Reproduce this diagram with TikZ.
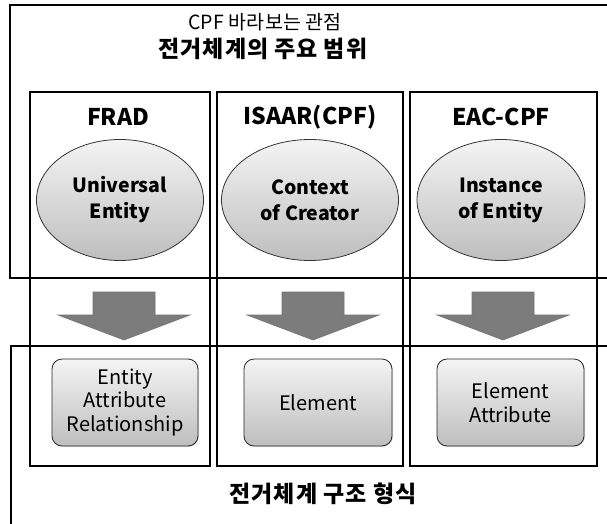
\documentclass[tikz,border=0pt]{standalone}
\usepackage{fontspec}
\setmainfont{Noto Sans CJK KR}
\usetikzlibrary{shapes.geometric,shadows}

\definecolor{arrowgray}{RGB}{124,124,124}
\definecolor{lightshade}{RGB}{244,244,244}
\definecolor{darkshade}{RGB}{190,190,190}

\tikzset{
  frame/.style={draw=black, line width=2pt},
  colbox/.style={draw=black, line width=2pt, fill=none},
  scopeoval/.style={ellipse, draw=black!80, line width=0.8pt,
        top color=lightshade, bottom color=darkshade, align=center,
        font=\fontsize{19.5}{26}\selectfont\bfseries, inner sep=0pt},
  formbox/.style={rectangle, rounded corners=10pt, draw=black!85, line width=0.8pt,
        top color=lightshade, bottom color=darkshade, align=center,
        font=\fontsize{20}{23.5}\selectfont, inner sep=0pt,
        drop shadow={shadow xshift=1pt, shadow yshift=-1pt, opacity=0.25}},
  headlabel/.style={font=\fontsize{23}{27}\selectfont\bfseries},
  downarrow/.style={fill=arrowgray, draw=black!55, line width=0.6pt}
}

\begin{document}
\begin{tikzpicture}[x=1pt,y=-1pt]
    \useasboundingbox (0,0) rectangle (607,524);
    \clip (0,0) rectangle (607,524);

    % outer frames (cut at the right and bottom)
    \draw[frame] (620,5) -- (10,5) -- (10,278) -- (620,278);
    \draw[frame] (620,346) -- (11,346) -- (11,540);

    \node (top1) at (265,22) {\fontsize{19.5}{23}\selectfont\addfontfeatures{LetterSpace=1} CPF 바라보는 관점};
    \node (top2) at (263,49) {\fontsize{23}{27}\selectfont\bfseries\addfontfeatures{LetterSpace=4} 전거체계의 주요 범위};
    \node (bottom) at (323,494) {\fontsize{23}{27}\selectfont\bfseries\addfontfeatures{LetterSpace=5} 전거체계 구조 형식};

    % three columns
    \draw[colbox] (30,92) rectangle (210,466);
    \draw[colbox] (217,92) rectangle (403,466);
    \draw[colbox] (410,92) rectangle (597,466);

    \node[headlabel] (hA) at (118,117) {FRAD};
    \node[headlabel] (hB) at (310,117) {ISAAR(CPF)};
    \node[headlabel] (hC) at (501,117) {EAC-CPF};

    \node[scopeoval, minimum width=167pt, minimum height=121pt] (oA) at (120,200) {Universal\\Entity};
    \node[scopeoval, minimum width=177pt, minimum height=121pt] (oB) at (310,200) {Context\\of Creator};
    \node[scopeoval, minimum width=168pt, minimum height=121pt] (oC) at (501,200) {Instance\\of Entity};

    % block arrows
    \foreach \cx in {124,313,503}
        \draw[downarrow] (\cx-31,292) -- (\cx+31,292) -- (\cx+31,315) -- (\cx+66,315)
            -- (\cx,340) -- (\cx-66,315) -- (\cx-31,315) -- cycle;

    \node[formbox, minimum width=146pt, minimum height=87pt] (bA) at (125,402.5) {Entity\\Attribute\\Relationship};
    \node[formbox, minimum width=148pt, minimum height=87pt] (bB) at (318,402.5) {Element};
    \node[formbox, minimum width=147pt, minimum height=87pt] (bC) at (510.5,402.5) {Element\\Attribute};
\end{tikzpicture}
\end{document}
